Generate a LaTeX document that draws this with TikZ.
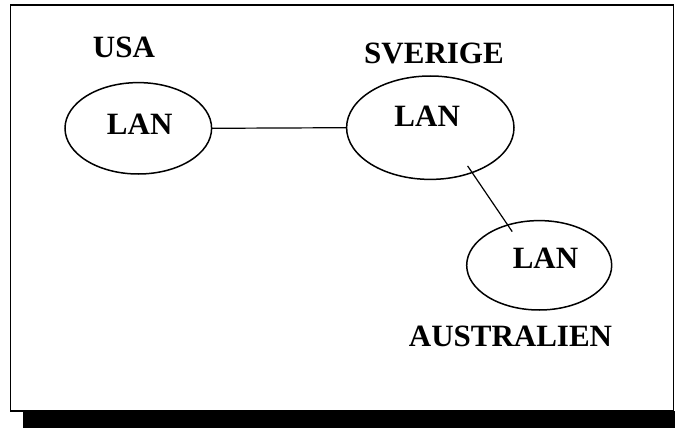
\documentclass[tikz,border=0pt]{standalone}
\usepackage{fontspec}
\setmainfont{Liberation Serif}
\usetikzlibrary{shapes.geometric}

\begin{document}
\begin{tikzpicture}[x=1pt,y=-1pt,
lan/.style={draw,ellipse,line width=1.5pt,inner sep=0pt,outer sep=0pt},
txt/.style={anchor=base,inner sep=0pt,font=\bfseries\fontsize{31}{31}\selectfont},
link/.style={line width=1.2pt}]
\useasboundingbox(0,0)rectangle(675,428);
% frame with its shadow
\fill[black](23,411)rectangle(675,428);
\draw[line width=1.3pt](10.3,5)rectangle(673.3,411);
% the three networks
\node[lan,minimum width=146.6pt,minimum height=91.4pt](usa)at(138.3,128.3){};
\node[lan,minimum width=167.4pt,minimum height=103.4pt](sverige)at(430.3,127.7){};
\node[lan,minimum width=145pt,minimum height=89.4pt](aus)at(539.2,265.3){};
\node[txt](usalan)at(139.7,134){LAN};
\node[txt](sverigelan)at(427.2,126){LAN};
\node[txt](auslan)at(545.5,268.3){LAN};
\node[txt](usaname)at(124,57.7){USA};
\node[txt](sverigename)at(434,64){SVERIGE};
\node[txt](ausname)at(510.5,346.7){AUSTRALIEN};
\draw[link](usa.east)--(sverige.west);
\draw[link,shorten <=-8pt,shorten >=-8pt](sverige.-47)--(aus.128);
\end{tikzpicture}
\end{document}
